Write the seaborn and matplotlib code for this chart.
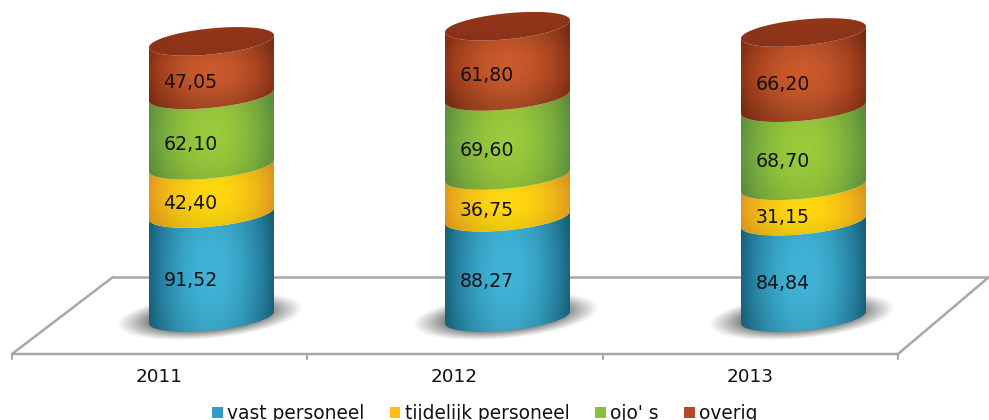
from matplotlib import pyplot as plt
from matplotlib.patches import Patch, PathPatch
from matplotlib.path import Path
from matplotlib.colors import to_rgb
import numpy as np
import pandas as pd
import seaborn as sns

jaren = ['2011', '2012', '2013']
series = ['vast personeel', 'tijdelijk personeel', "ojo' s", 'overig']
vast = [91.52, 88.27, 84.84]
tijdelijk = [42.40, 36.75, 31.15]
ojo = [62.10, 69.60, 68.70]
overig = [47.05, 61.80, 66.20]

kleuren = ['#2f9fc4', '#fdbd14', '#8cbf3f', '#b5482a']
donker = ['#17647f', '#e39a1f', '#5f9440', '#8c3216']
licht = ['#40b4d8', '#ffd80f', '#9acb3c', '#cb5a2c']

W, H = 989, 420
PX_PER_UNIT = 1.136
BASE_PX = 317.5
STEP_PX = 296
FIRST_PX = 211.5
A_PX, B_PX, TILT_PX = 62.5, 13.0, 6.0

sns.set_theme(style='white')
plt.rcParams['font.family'] = ['DejaVu Sans']

fig = plt.figure(figsize=(W / 100, H / 100), dpi=100)

# achtergrond in pixels: vloer en schaduw
bg = fig.add_axes([0, 0, 1, 1], zorder=0)
bg.set_xlim(0, W)
bg.set_ylim(H, 0)
bg.axis('off')

ax = fig.add_axes([0, 0, 1, 1], zorder=1)
ax.patch.set_visible(False)

df = pd.DataFrame({'jaar': jaren, 'vast': vast, 'tijdelijk': tijdelijk, 'ojo': ojo, 'overig': overig})
kolommen = ['vast', 'tijdelijk', 'ojo', 'overig']
cum = df[kolommen].cumsum(axis=1)
cum['jaar'] = df['jaar']

xlim = ((0 - FIRST_PX) / STEP_PX, (W - FIRST_PX) / STEP_PX)
ylim = ((BASE_PX - H) / PX_PER_UNIT, BASE_PX / PX_PER_UNIT)


def ring(xc, level, t):
    x = xc + A_PX / STEP_PX * np.cos(t)
    y = level + (B_PX * np.sin(t) + TILT_PX * np.cos(t)) / PX_PER_UNIT
    return x, y


def gradient(c_dark, c_light, shade=None, n=200):
    u = np.linspace(-1, 1, n)
    w = 1 - np.abs(u) ** 2.0
    w = w[None, :, None]
    d, l = np.array(to_rgb(c_dark)), np.array(to_rgb(c_light))
    img = d + (l - d) * w
    if shade is not None:
        img = img * shade[:, None, None]
    return np.clip(img, 0, 1)


def draw_clipped(img, path, xc, y0, y1, zorder):
    half = A_PX / STEP_PX
    im = ax.imshow(img, extent=(xc - half, xc + half, y0, y1), origin='lower',
                   aspect='auto', zorder=zorder, interpolation='bilinear')
    im.set_clip_path(PathPatch(path, transform=ax.transData))


def draw_shadow(cx):
    xs = np.arange(cx - 115, cx + 115)
    ys = np.arange(280, 350)
    xx, yy = np.meshgrid(xs, ys)
    dx = (xx - cx + 2) / 94
    dy = (yy - 316 + (xx - cx) * 0.09) / 23
    r = np.sqrt(dx ** 2 + dy ** 2)
    alpha = np.clip((1.0 - r) / 0.4, 0, 1) ** 1.1 * 0.78
    img = np.zeros(xx.shape + (4,))
    img[..., :3] = 0.3
    img[..., 3] = alpha
    bg.imshow(img, extent=(xs[0], xs[-1], ys[-1], ys[0]), aspect='auto', zorder=2, interpolation='bilinear')


# vloer
grijs = '#a8a8a8'
bg.plot([113, 989], [277, 277], color=grijs, lw=1.8, zorder=1)
bg.plot([12, 898, 989], [354, 354, 277], color=grijs, lw=1.8, zorder=1, solid_joinstyle='miter')
bg.plot([12, 113], [354, 277], color=grijs, lw=1.8, zorder=1)
for tx in [12, 307, 603, 898]:
    bg.plot([tx, tx], [354, 359], color=grijs, lw=1.5, zorder=1)
for i in range(len(jaren)):
    draw_shadow(FIRST_PX + i * STEP_PX)
bg.set_xlim(0, W)
bg.set_ylim(H, 0)

# de balken bepalen de maten, de cilinders worden eroverheen getekend
t_front = np.linspace(np.pi, 2 * np.pi, 80)
t_full = np.linspace(0, 2 * np.pi, 160)
bases = np.zeros(len(jaren))
for s, kol in enumerate(kolommen):
    start = len(ax.patches)
    sns.barplot(data=cum, x='jaar', y=kol, color=kleuren[s], width=125 / STEP_PX, ax=ax)
    bars = ax.patches[start:]
    for i, bar in enumerate(bars):
        bar.set_visible(False)
        xc = bar.get_x() + bar.get_width() / 2
        top = bar.get_height()
        xb, yb = ring(xc, bases[i], t_front)
        xt, yt = ring(xc, top, t_front[::-1])
        verts = np.column_stack([np.r_[xb, xt], np.r_[yb, yt]])
        y0, y1 = yb.min() - 2, yt.max() + 2
        z = np.linspace(0, 1, 200)
        if s == len(kolommen) - 1:
            # bovenste stuk loopt donker op naar de deksel
            shade = 0.76 + 0.24 * np.sin(np.pi * np.clip(z * 0.9 + 0.05, 0, 1)) ** 1.5
        else:
            shade = 0.9 + 0.1 * np.sin(np.pi * z)
        draw_clipped(gradient(donker[s], licht[s], shade), Path(np.vstack([verts, verts[0]]), closed=True), xc, y0, y1, 3)

        waarde = df[kol][i]
        ax.annotate(f'{waarde:.2f}'.replace('.', ','), xy=(xc, bases[i] + waarde / 2),
                    xytext=(-21 * 0.72, -14.5 * 0.72), textcoords='offset points',
                    ha='center', va='center', fontsize=13.6, color='#111111', zorder=6)

        if s == len(kolommen) - 1:
            xe, ye = ring(xc, top, t_full)
            ell = np.column_stack([xe, ye])
            z = np.linspace(0, 1, 200)
            draw_clipped(gradient('#8a3318', '#8e3419', 0.98 + 0.06 * z), Path(ell, closed=True), xc, ye.min(), ye.max(), 4)
        bases[i] = top

ax.set_xlim(*xlim)
ax.set_ylim(*ylim)
ax.axis('off')

# jaartallen onder de vloer
for i, jaar in enumerate(jaren):
    bg.text(159 + i * 295.5, 377, jaar, ha='center', va='center', fontsize=13.2, color='#111111')

handles = [Patch(facecolor=k, edgecolor='none') for k in kleuren]
fig.legend(handles, series, loc='lower left', bbox_to_anchor=(208 / W, -7 / H), ncols=4, frameon=False,
           fontsize=13.4, handlelength=0.58, handleheight=0.58, handletextpad=0.22, columnspacing=1.38,
           labelcolor='#111111', borderpad=0.2, borderaxespad=0)

fig.savefig('out.png', dpi=100)
